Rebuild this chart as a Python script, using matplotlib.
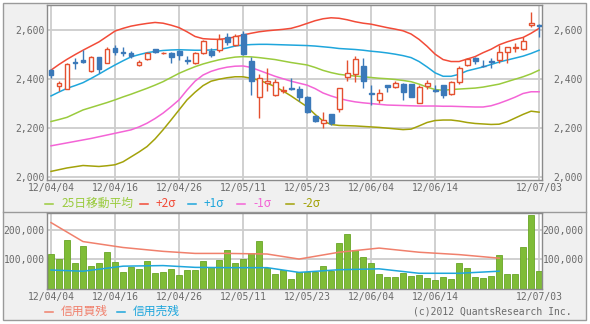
import matplotlib
matplotlib.use("Agg")
import matplotlib.pyplot as plt
from matplotlib.patches import Rectangle
from matplotlib.lines import Line2D
import numpy as np

# ---- price data (daily OHLC, 2012-04-04 .. 2012-07-03) ----
opens = [2434, 2372, 2360, 2468, 2476, 2430, 2488, 2465, 2524, 2508,
         2506, 2456, 2482, 2520, 2503, 2505, 2514, 2475, 2462, 2503,
         2512, 2517, 2570, 2536, 2580, 2474, 2324, 2384, 2333, 2352,
         2362, 2358, 2324, 2250, 2218, 2255, 2276, 2408, 2419, 2452,
         2343, 2313, 2374, 2368, 2380, 2377, 2303, 2369, 2354, 2374,
         2337, 2388, 2456, 2486, 2453, 2471, 2476, 2510, 2526, 2520,
         2618, 2620]
highs = [2440, 2390, 2462, 2483, 2516, 2492, 2490, 2530, 2536, 2530,
         2514, 2478, 2510, 2522, 2510, 2510, 2518, 2493, 2508, 2556,
         2524, 2582, 2588, 2580, 2596, 2489, 2420, 2442, 2400, 2370,
         2405, 2370, 2330, 2254, 2264, 2256, 2363, 2478, 2494, 2483,
         2374, 2360, 2376, 2392, 2382, 2378, 2374, 2395, 2374, 2376,
         2390, 2453, 2486, 2488, 2476, 2483, 2537, 2531, 2545, 2568,
         2672, 2622]
lows = [2404, 2350, 2358, 2438, 2466, 2428, 2423, 2462, 2498, 2494,
        2486, 2450, 2476, 2505, 2500, 2464, 2476, 2458, 2460, 2500,
        2487, 2510, 2537, 2533, 2498, 2334, 2239, 2350, 2330, 2343,
        2354, 2310, 2262, 2226, 2200, 2213, 2266, 2390, 2388, 2362,
        2295, 2302, 2348, 2362, 2312, 2325, 2300, 2358, 2346, 2322,
        2335, 2378, 2452, 2460, 2449, 2442, 2466, 2463, 2510, 2518,
        2610, 2568]
closes = [2415, 2382, 2460, 2464, 2470, 2489, 2440, 2519, 2510, 2504,
          2494, 2468, 2504, 2507, 2506, 2488, 2497, 2472, 2506, 2553,
          2498, 2563, 2548, 2574, 2502, 2392, 2405, 2389, 2388, 2356,
          2358, 2325, 2266, 2230, 2232, 2218, 2361, 2424, 2479, 2391,
          2338, 2342, 2366, 2381, 2347, 2327, 2365, 2384, 2350, 2333,
          2385, 2442, 2480, 2473, 2450, 2467, 2510, 2529, 2530, 2552,
          2627, 2614]

# ---- 25-day moving average and Bollinger bands ----
ma25 = [2226, 2234, 2243, 2258, 2273, 2283, 2293, 2303, 2314, 2326,
        2337, 2349, 2361, 2374, 2388, 2405, 2422, 2436, 2449, 2460,
        2469, 2477, 2483, 2488, 2490, 2489, 2486, 2482, 2478, 2472,
        2466, 2461, 2456, 2446, 2434, 2425, 2418, 2414, 2411, 2408,
        2405, 2402, 2400, 2397, 2393, 2388, 2378, 2366, 2356, 2353,
        2356, 2358, 2360, 2362, 2366, 2372, 2378, 2388, 2398, 2408,
        2420, 2435]
plus2 = [2435, 2458, 2479, 2498, 2516, 2533, 2550, 2572, 2594, 2605,
         2614, 2620, 2625, 2629, 2626, 2618, 2608, 2591, 2572, 2563,
         2561, 2560, 2564, 2570, 2578, 2585, 2591, 2595, 2598, 2601,
         2605, 2614, 2625, 2636, 2644, 2648, 2646, 2640, 2632, 2626,
         2622, 2615, 2608, 2602, 2595, 2582, 2560, 2532, 2500, 2478,
         2470, 2470, 2480, 2490, 2506, 2520, 2538, 2550, 2560, 2568,
         2585, 2605]
plus1 = [2330, 2346, 2361, 2372, 2384, 2401, 2419, 2438, 2456, 2473,
         2489, 2498, 2506, 2511, 2515, 2517, 2518, 2517, 2516, 2516,
         2517, 2519, 2525, 2533, 2537, 2539, 2540, 2540, 2539, 2538,
         2537, 2536, 2535, 2533, 2530, 2527, 2523, 2521, 2519, 2516,
         2512, 2509, 2505, 2500, 2494, 2486, 2470, 2448, 2424, 2410,
         2410, 2418, 2432, 2440, 2448, 2458, 2468, 2476, 2484, 2492,
         2503, 2516]
minus1 = [2127, 2133, 2139, 2145, 2151, 2157, 2164, 2171, 2178, 2185,
          2192, 2204, 2219, 2238, 2260, 2286, 2314, 2354, 2390, 2415,
          2430, 2440, 2447, 2451, 2452, 2446, 2434, 2422, 2410, 2400,
          2390, 2382, 2374, 2360, 2342, 2330, 2320, 2312, 2306, 2302,
          2299, 2296, 2293, 2292, 2291, 2290, 2289, 2289, 2289, 2288,
          2288, 2287, 2286, 2285, 2285, 2290, 2300, 2312, 2325, 2340,
          2347, 2347]
minus2 = [2023, 2030, 2037, 2042, 2047, 2045, 2043, 2046, 2050, 2062,
          2082, 2102, 2124, 2155, 2192, 2232, 2273, 2314, 2345, 2372,
          2390, 2398, 2404, 2408, 2408, 2402, 2394, 2382, 2368, 2350,
          2330, 2308, 2286, 2255, 2228, 2214, 2210, 2209, 2208, 2206,
          2204, 2202, 2199, 2196, 2193, 2195, 2208, 2222, 2230, 2232,
          2232, 2228, 2222, 2218, 2216, 2214, 2215, 2225, 2240, 2255,
          2268, 2264]

# ---- volume ----
volume = [118000, 101000, 165000, 88000, 144000, 78000, 88000, 124000, 90000, 56000,
          73000, 68000, 95000, 54000, 58000, 68000, 48000, 65000, 65000, 95000,
          73000, 98000, 132000, 88000, 101000, 120000, 161000, 70000, 51000, 64000,
          34000, 56000, 56000, 59000, 77000, 62000, 155000, 185000, 132000, 107000,
          88000, 51000, 40000, 40000, 53000, 45000, 47000, 36000, 32000, 42000,
          34000, 88000, 70000, 40000, 36000, 45000, 115000, 51000, 49000, 143000,
          249000, 62000]

# ---- weekly margin balances (day index of each update) ----
margin_idx = [0, 4, 9, 14, 18, 22, 27, 31, 36, 41, 46, 51, 56]
margin_buy = [224000, 160000, 140000, 127000, 120000, 120000, 118000,
              101000, 124000, 138000, 124000, 116000, 104000]
margin_sell = [64000, 60000, 77000, 79000, 73000, 72000, 72000,
               56000, 65000, 68000, 53000, 53000, 60000]

# ---- axis labels ----
tick_idx = [0, 8, 16, 24, 32, 40, 48, 61]
tick_labels = ['12/04/04', '12/04/16', '12/04/26', '12/05/11',
               '12/05/23', '12/06/04', '12/06/14', '12/07/03']
price_ticks = [2000, 2200, 2400, 2600]
vol_ticks = [100000, 200000]

# ---- styling ----
C_UP = '#e4502f'
C_DOWN = '#3b79b9'
C_MA = '#9acb3d'
C_P2 = '#f24b38'
C_P1 = '#1fa6dc'
C_M1 = '#f464d6'
C_M2 = '#a3a20a'
C_BAR = '#7fbc37'
C_BAR_EDGE = '#6aa527'
C_BUY = '#f0806c'
C_SELL = '#1fa6dc'
C_GRID = '#cdcdcd'
C_TEXT = '#6a6a6a'
C_SPINE = '#8a8a8a'
MONO = 'DejaVu Sans Mono'
JP = ['Noto Sans CJK JP', 'DejaVu Sans']

W, H = 590, 324
fig = plt.figure(figsize=(W / 100, H / 100), dpi=100)
fig.patch.set_facecolor('white')


def fx(x):
    return x / W


def fy(y):
    return 1 - y / H


# background panel and frames
fig.patches.append(Rectangle((fx(3), fy(320)), fx(583), 317 / H,
                             transform=fig.transFigure, facecolor='#f0f0f0',
                             edgecolor='#9a9a9a', linewidth=1, zorder=-5))
fig.lines.append(Line2D([fx(3), fx(586)], [fy(211.5), fy(211.5)],
                        transform=fig.transFigure, color='#9a9a9a', lw=1, zorder=-4))

L, R = 47, 541.5
ax = fig.add_axes([fx(L), fy(180), (R - L) / W, 175 / H])
axv = fig.add_axes([fx(L), fy(289), (R - L) / W, 76.5 / H])

x = np.arange(len(closes))
xlim = (-0.5, 61.3)


def style_axes(a):
    a.set_facecolor('white')
    for s in a.spines.values():
        s.set_color(C_SPINE)
        s.set_linewidth(1)
    a.set_xlim(*xlim)
    a.set_xticks(tick_idx)
    a.set_xticklabels(tick_labels, fontfamily=MONO, fontsize=7, color=C_TEXT)
    a.tick_params(axis='both', length=0, colors=C_TEXT)
    a.tick_params(axis='x', pad=2.5)
    a.tick_params(axis='y', pad=1.5)
    a.grid(True, color=C_GRID, linewidth=1.3, zorder=0)
    a.set_axisbelow(True)


# ---- price panel ----
style_axes(ax)
ax.set_ylim(1988, 2700)
ax.set_yticks(price_ticks)
ax.set_yticklabels([f'{v:,}' for v in price_ticks], fontfamily=MONO, fontsize=7, color=C_TEXT)

for series, col in [(minus2, C_M2), (minus1, C_M1), (ma25, C_MA), (plus1, C_P1), (plus2, C_P2)]:
    ax.plot(x, series, color=col, lw=1.1, zorder=2)

o = np.array(opens)
c = np.array(closes)
hi = np.array(highs)
lo = np.array(lows)
up = c >= o
cols = np.where(up, C_UP, C_DOWN)
ax.vlines(x, lo, hi, colors=cols, linewidth=1, zorder=3)
body_lo = np.minimum(o, c)
body_h = np.maximum(np.abs(c - o), 0.5)
ax.bar(x[up], body_h[up], bottom=body_lo[up], width=0.62, facecolor='white',
       edgecolor=C_UP, linewidth=1, zorder=4)
ax.bar(x[~up], body_h[~up], bottom=body_lo[~up], width=0.62, facecolor=C_DOWN,
       edgecolor=C_DOWN, linewidth=1, zorder=4)

axr = ax.twinx()
axr.set_ylim(ax.get_ylim())
axr.set_yticks(price_ticks)
axr.set_yticklabels([f'{v:,}' for v in price_ticks], fontfamily=MONO, fontsize=7,
                    color=C_TEXT, ha='right')
axr.tick_params(axis='y', length=0, pad=30)
for s in axr.spines.values():
    s.set_visible(False)

# ---- volume panel ----
style_axes(axv)
axv.set_ylim(0, 258000)
axv.set_yticks(vol_ticks)
axv.set_yticklabels([f'{v:,}' for v in vol_ticks], fontfamily=MONO, fontsize=7, color=C_TEXT)
axv.bar(x, volume, width=0.78, color=C_BAR, edgecolor=C_BAR_EDGE, linewidth=0.6, zorder=2)
axv.plot(margin_idx, margin_buy, color=C_BUY, lw=1.1, zorder=3)
axv.plot(margin_idx, margin_sell, color=C_SELL, lw=1.1, zorder=3)

axvr = axv.twinx()
axvr.set_ylim(axv.get_ylim())
axvr.set_yticks(vol_ticks)
axvr.set_yticklabels([f'{v:,}' for v in vol_ticks], fontfamily=MONO, fontsize=7,
                     color=C_TEXT, ha='right')
axvr.tick_params(axis='y', length=0, pad=30.5)
for s in axvr.spines.values():
    s.set_visible(False)

# ---- legends ----
def legend_item(x0, y0, color, label):
    fig.lines.append(Line2D([fx(x0), fx(x0 + 8)], [fy(y0), fy(y0)],
                            transform=fig.transFigure, color=color, lw=1.1))
    fig.text(fx(x0 + 16), fy(y0), label, color=color, fontsize=8.5,
             family=JP, va='center', ha='left')


for x0, col, lab in [(45, C_MA, '25日移動平均'), (140, C_P2, '+2σ'), (188, C_P1, '+1σ'),
                     (237, C_M1, '-1σ'), (286, C_M2, '-2σ')]:
    legend_item(x0, 203.5, col, lab)

for x0, col, lab in [(45, C_BUY, '信用買残'), (117, C_SELL, '信用売残')]:
    legend_item(x0, 311.5, col, lab)

fig.text(fx(572), fy(312), '(c)2012 QuantsResearch Inc.', fontfamily=MONO,
         fontsize=7, color=C_TEXT, ha='right', va='center')

fig.savefig('out.png', dpi=100, facecolor=fig.get_facecolor())
